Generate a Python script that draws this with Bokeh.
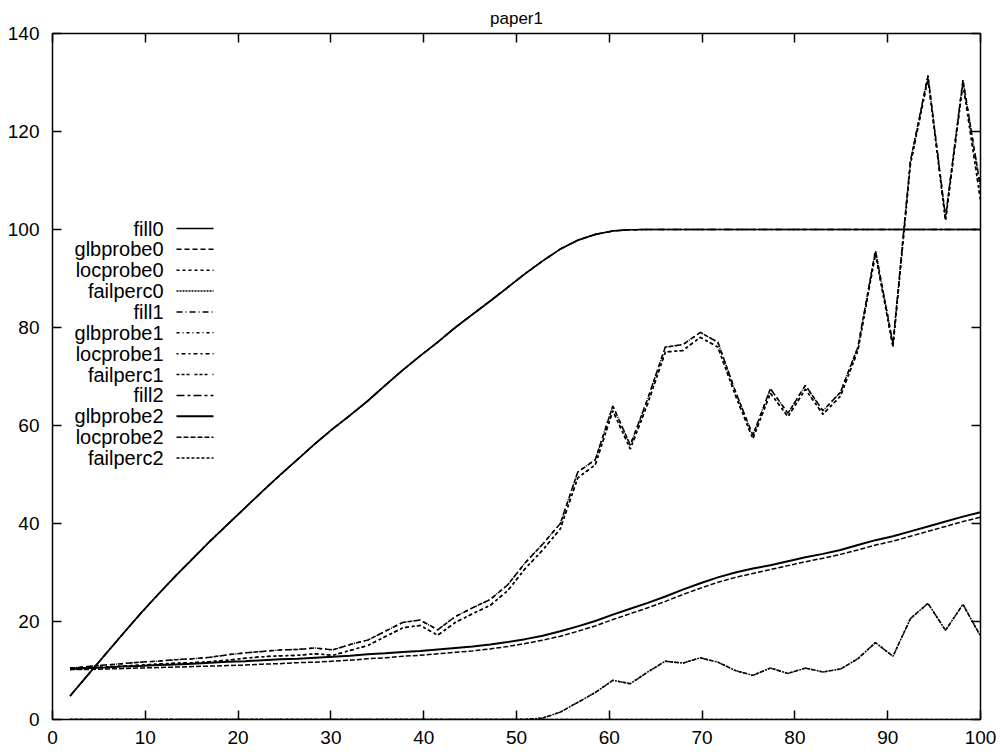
from bokeh.plotting import figure
from bokeh.models import Range1d, LinearAxis, FixedTicker, Label, Arrow
from bokeh.embed import file_html
from bokeh.resources import INLINE

# ---------------- data ----------------
x_vals = [1.89, 3.77, 5.66, 7.55, 9.43, 11.32, 13.21, 15.09, 16.98, 18.87,
          20.75, 22.64, 24.53, 26.42, 28.30, 30.19, 32.08, 33.96, 35.85, 37.74,
          39.62, 41.51, 43.40, 45.28, 47.17, 49.06, 50.94, 52.83, 54.72, 56.60,
          58.49, 60.38, 62.26, 64.15, 66.04, 67.92, 69.81, 71.70, 73.58, 75.47,
          77.36, 79.25, 81.13, 83.02, 84.91, 86.79, 88.68, 90.57, 92.45, 94.34,
          96.23, 98.11, 100.00]

fill0 = [4.8, 9.0, 13.2, 17.4, 21.5, 25.4, 29.2, 32.8, 36.4, 39.8,
         43.2, 46.6, 49.9, 53.1, 56.3, 59.3, 62.1, 65.0, 68.2, 71.3,
         74.2, 77.0, 80.0, 82.7, 85.4, 88.2, 91.0, 93.6, 96.0, 97.8,
         99.0, 99.7, 99.95, 100, 100, 100, 100, 100, 100, 100,
         100, 100, 100, 100, 100, 100, 100, 100, 100, 100,
         100, 100, 100]
fill1 = list(fill0)
fill2 = list(fill0)

glbprobe0 = [10.5, 10.8, 11.1, 11.4, 11.7, 11.9, 12.2, 12.4, 12.7, 13.2,
             13.6, 13.9, 14.2, 14.3, 14.6, 14.2, 15.3, 16.2, 18.0, 19.8,
             20.3, 18.3, 21.0, 22.8, 24.5, 27.5, 32.0, 35.8, 40.0, 50.5,
             53.0, 64.0, 56.0, 65.5, 76.0, 76.5, 79.0, 77.0, 67.0, 58.0,
             67.5, 62.5, 68.2, 63.0, 66.8, 76.0, 95.7, 76.7, 114.0, 131.4,
             102.5, 130.5, 108.6]
locprobe0 = [10.2, 10.5, 10.7, 10.9, 11.1, 11.3, 11.5, 11.6, 11.8, 12.1,
             12.5, 12.8, 13.0, 13.1, 13.4, 13.1, 14.1, 15.1, 16.9, 18.7,
             19.2, 17.2, 19.8, 21.6, 23.3, 26.3, 30.8, 34.6, 38.9, 49.3,
             52.0, 63.0, 55.2, 64.5, 75.0, 75.3, 78.0, 76.0, 66.2, 57.3,
             66.6, 61.8, 67.4, 62.3, 66.0, 75.3, 95.0, 76.0, 113.3, 130.8,
             101.8, 129.8, 106.0]
failperc0 = [0, 0, 0, 0, 0, 0, 0, 0, 0, 0,
             0, 0, 0, 0, 0, 0, 0, 0, 0, 0,
             0, 0, 0, 0, 0, 0, 0, 0.3, 1.5, 3.5,
             5.5, 8.0, 7.3, 9.7, 11.9, 11.5, 12.6, 11.7, 10.0, 9.0,
             10.5, 9.4, 10.5, 9.7, 10.3, 12.4, 15.7, 12.9, 20.6, 23.7,
             18.2, 23.5, 17.0]

glbprobe1 = list(glbprobe0)
locprobe1 = list(locprobe0)
failperc1 = list(failperc0)

glbprobe2 = [10.4, 10.5, 10.6, 10.8, 10.9, 11.1, 11.2, 11.4, 11.6, 11.8,
             11.9, 12.1, 12.3, 12.4, 12.6, 12.8, 13.0, 13.3, 13.5, 13.8,
             14.0, 14.3, 14.6, 14.9, 15.3, 15.8, 16.4, 17.1, 18.0, 19.0,
             20.1, 21.4, 22.6, 23.8, 25.1, 26.5, 27.8, 29.0, 30.0, 30.8,
             31.5, 32.3, 33.1, 33.8, 34.6, 35.6, 36.6, 37.4, 38.4, 39.4,
             40.4, 41.4, 42.3]
locprobe2 = [10.2, 10.2, 10.3, 10.4, 10.5, 10.6, 10.7, 10.8, 10.9, 11.0,
             11.1, 11.3, 11.4, 11.6, 11.7, 11.9, 12.1, 12.4, 12.6, 12.9,
             13.1, 13.4, 13.7, 14.0, 14.4, 14.9, 15.5, 16.2, 17.0, 18.0,
             19.1, 20.4, 21.6, 22.8, 24.1, 25.5, 26.8, 28.0, 29.0, 29.8,
             30.6, 31.4, 32.2, 32.9, 33.7, 34.6, 35.6, 36.4, 37.4, 38.4,
             39.4, 40.4, 41.3]
failperc2 = [0] * 53

series_names = ["fill0", "glbprobe0", "locprobe0", "failperc0",
                "fill1", "glbprobe1", "locprobe1", "failperc1",
                "fill2", "glbprobe2", "locprobe2", "failperc2"]
series_values = [fill0, glbprobe0, locprobe0, failperc0,
                 fill1, glbprobe1, locprobe1, failperc1,
                 fill2, glbprobe2, locprobe2, failperc2]

x_ticks = [0, 10, 20, 30, 40, 50, 60, 70, 80, 90, 100]
y_ticks = [0, 20, 40, 60, 80, 100, 120, 140]
title_text = "paper1"

# ---------------- styles ----------------
dashes = ["solid", "5 3", "3 3", "2 1",
          "6 3 1 3", "3 3 1 3", "2 3 4 3", "3 2 3 2 3 5",
          "8 3 3 3", "solid", "5 2", "3 2"]
widths = [1.7, 1.5, 1.5, 1.5, 1.5, 1.5, 1.5, 1.5, 1.5, 2.0, 1.5, 1.5]

FONT = "Liberation Sans"

p = figure(width=1000, height=752, output_backend="svg", toolbar_location=None,
           x_range=Range1d(0, 100), y_range=Range1d(0, 140),
           min_border_left=52, min_border_right=20, min_border_top=33,
           min_border_bottom=33, title=title_text)

p.title.align = "center"
p.title.text_font = FONT
p.title.text_font_size = "17px"
p.title.text_font_style = "normal"
p.title.text_color = "black"
p.title.standoff = 12

p.grid.visible = False
p.outline_line_color = "black"
p.outline_line_width = 1.5
p.background_fill_color = "white"
p.border_fill_color = "white"

for ax in (p.xaxis[0], p.yaxis[0]):
    ax.axis_line_color = None
    ax.major_tick_in = 9
    ax.major_tick_out = 0
    ax.minor_tick_line_color = None
    ax.major_tick_line_color = "black"
    ax.major_tick_line_width = 1.5
    ax.major_label_text_font = FONT
    ax.major_label_text_font_size = "19px"
    ax.major_label_text_color = "black"

p.xaxis[0].ticker = FixedTicker(ticks=x_ticks)
p.yaxis[0].ticker = FixedTicker(ticks=y_ticks)
p.xaxis[0].major_label_standoff = 11
p.yaxis[0].major_label_standoff = 13

top_ax = LinearAxis(ticker=FixedTicker(ticks=x_ticks), axis_line_color=None,
                    major_tick_in=9, major_tick_out=0, minor_tick_line_color=None,
                    major_tick_line_width=1.5, major_label_text_font_size="1px",
                    major_label_text_color=None, major_label_standoff=0)
right_ax = LinearAxis(ticker=FixedTicker(ticks=y_ticks), axis_line_color=None,
                      major_tick_in=9, major_tick_out=0, minor_tick_line_color=None,
                      major_tick_line_width=1.5, major_label_text_font_size="1px",
                      major_label_text_color=None, major_label_standoff=0)
p.add_layout(top_ax, "above")
p.add_layout(right_ax, "right")

for vals, dash, w in zip(series_values, dashes, widths):
    p.line(x_vals, vals, line_color="black", line_width=w, line_dash=dash)

# ---------------- legend (labels left of samples) ----------------
leg_label_x = 111      # right edge of label text, screen px from frame left
leg_line_x0 = 124
leg_line_x1 = 161
leg_top = 491          # first row, screen px from frame bottom
leg_step = 20.87
for k, (name, dash, w) in enumerate(zip(series_names, dashes, widths)):
    yy = leg_top - k * leg_step
    p.add_layout(Label(x=leg_label_x, y=yy, x_units="screen", y_units="screen",
                       text=name, text_align="right", text_baseline="middle",
                       text_font=FONT, text_font_size="20px", text_color="black"))
    p.add_layout(Arrow(end=None, x_start=leg_line_x0, y_start=yy,
                       x_end=leg_line_x1, y_end=yy,
                       start_units="screen", end_units="screen",
                       line_color="black", line_width=w, line_dash=dash))

open("out.html", "w").write(file_html(p, INLINE))
